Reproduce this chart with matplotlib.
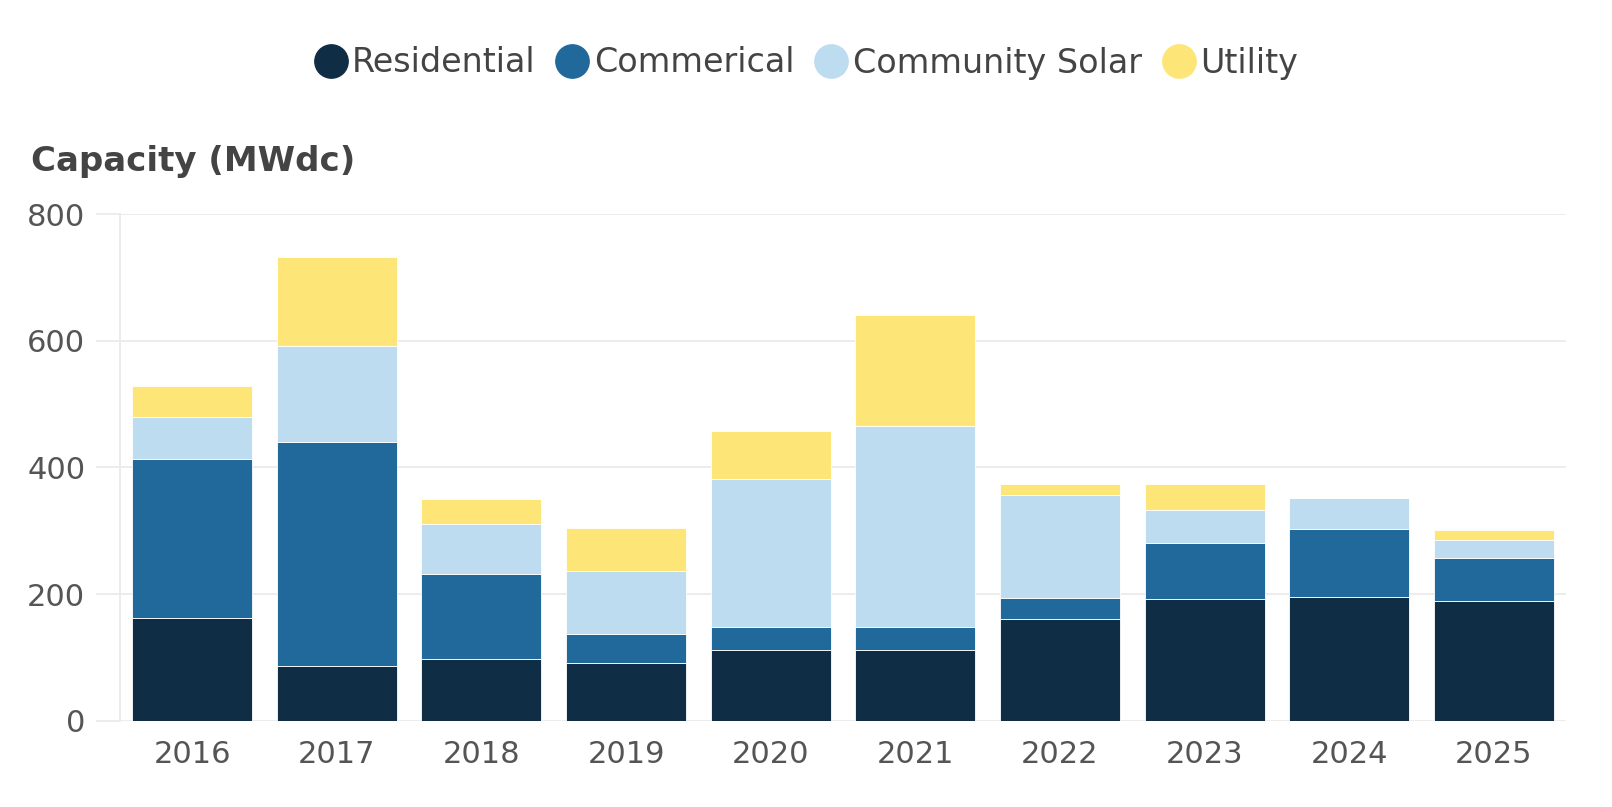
import matplotlib.pyplot as plt
from matplotlib.lines import Line2D
import numpy as np

years = ['2016', '2017', '2018', '2019', '2020', '2021', '2022', '2023', '2024', '2025']
residential = [162, 87, 98, 92, 112, 112, 161, 193, 195, 190]
commercial = [252, 354, 134, 46, 37, 37, 33, 88, 108, 67]
community_solar = [66, 151, 79, 98, 233, 317, 163, 52, 49, 29]
utility = [48, 140, 39, 69, 76, 174, 17, 41, 0, 16]

series_names = ['Residential', 'Commerical', 'Community Solar', 'Utility']
colors = ['#0f2d45', '#21699b', '#bddcf0', '#fde577']

plt.rcParams['font.family'] = ['DejaVu Sans']

fig = plt.figure(figsize=(16.12, 8.07), dpi=100)
ax = fig.add_axes([0.0744, 0.1066, 0.8971, 0.6282])

x = np.arange(len(years))
bottom = np.zeros(len(years))
for name, vals, c in zip(series_names, [residential, commercial, community_solar, utility], colors):
    vals = np.array(vals)
    ax.bar(x, vals, width=0.83, bottom=bottom, color=c, edgecolor='white', linewidth=0.6, zorder=3)
    bottom += vals

ax.set_xlim(-0.5, len(years) - 0.5)
ax.set_ylim(0, 800)
ax.set_yticks([0, 200, 400, 600, 800])
ax.set_xticks(x)
ax.set_xticklabels(years)
ax.grid(axis='y', color='#ebebeb', linewidth=1.3, zorder=0)
for s in ['top', 'right', 'bottom']:
    ax.spines[s].set_visible(False)
ax.spines['left'].set_color('#ebebeb')
ax.spines['left'].set_linewidth(1.3)
ax.tick_params(axis='y', length=17, width=1.3, color='#ebebeb', labelsize=22, labelcolor='#555555', pad=8)
ax.tick_params(axis='x', length=0, labelsize=22, labelcolor='#555555', pad=14)

fig.text(31 / 1612, 1 - 161 / 807, 'Capacity (MWdc)', fontsize=24.5, fontweight='bold',
         color='#444444', va='center', ha='left')

handles = [Line2D([0], [0], marker='o', linestyle='', markersize=24, markerfacecolor=c,
                  markeredgecolor=c) for c in colors]
fig.legend(handles, series_names, loc='center', bbox_to_anchor=(0.5, 1 - 63 / 807), ncol=4,
           frameon=False, fontsize=24, handletextpad=0.15, columnspacing=0.6, handlelength=1.0,
           labelcolor='#444444')

fig.savefig('out.png', dpi=100)
